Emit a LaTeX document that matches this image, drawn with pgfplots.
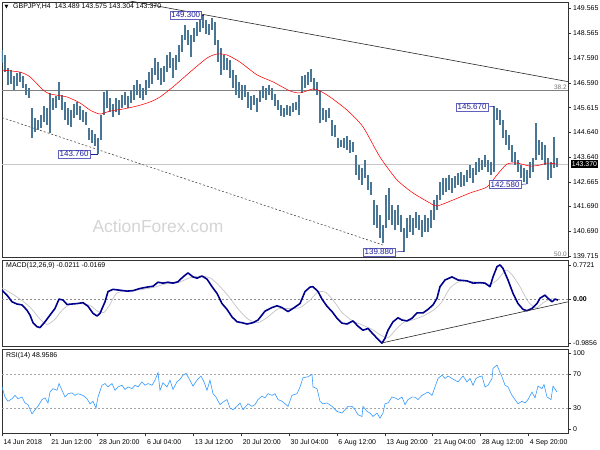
\documentclass[border=0pt]{standalone}
\usepackage{pgfplots}
\pgfplotsset{compat=1.18}
\usepackage{pgfplotstable}
\usepackage{fontspec}
\setmainfont{Liberation Sans}
\newfontfamily\symfont{DejaVu Sans}

\definecolor{barcol}{RGB}{72,118,148}
\definecolor{macdcol}{RGB}{0,0,140}
\definecolor{sigcol}{RGB}{196,196,196}
\definecolor{rsicol}{RGB}{51,153,255}
\definecolor{lblblue}{RGB}{30,30,160}
\definecolor{framecol}{RGB}{50,50,50}

% price bars: x (chart pixel), low, high
\pgfplotstableread{
x lo hi
2 147.39 147.91
5 147.03 147.71
8 146.52 147.20
11 146.56 147.12
14 146.32 146.88
17 146.48 147.00
20 146.64 147.04
23 146.40 146.88
26 146.12 146.56
29 146.00 146.40
32 144.41 145.60
35 144.65 145.20
38 144.73 145.12
41 144.81 145.32
44 145.04 145.68
47 144.93 145.60
50 144.61 146.20
53 145.52 146.00
56 145.60 146.08
59 145.92 146.64
62 145.52 146.12
65 145.12 145.84
68 144.93 145.60
71 144.85 145.52
74 145.20 145.76
77 145.32 145.84
80 145.12 145.68
83 145.04 145.52
86 144.93 145.44
89 144.33 144.81
92 144.21 144.73
95 144.09 144.57
98 143.76 144.41
101 144.33 145.32
104 145.32 146.24
107 145.60 146.32
110 145.44 146.00
113 145.24 145.76
116 145.44 146.00
119 145.32 145.92
122 145.60 146.12
125 145.72 146.24
128 145.60 146.08
131 145.80 146.32
134 145.92 146.52
137 146.12 146.72
140 146.00 146.56
143 145.92 146.40
146 146.12 146.72
149 146.40 147.04
152 146.56 147.20
155 146.92 147.59
158 146.72 147.43
161 146.52 147.20
164 146.64 147.28
167 147.04 147.71
170 147.20 147.83
173 146.80 147.59
176 147.12 147.71
179 147.43 148.11
182 147.83 148.51
185 148.31 148.90
188 148.11 148.71
191 147.63 148.51
194 148.23 148.79
197 148.47 149.02
200 148.63 149.10
203 148.79 149.30
206 148.55 149.10
209 148.51 148.94
212 148.71 149.18
215 148.11 149.02
218 147.43 148.31
221 146.92 147.99
224 147.12 147.71
227 147.12 147.59
230 146.80 147.51
233 146.40 147.12
236 146.12 146.92
239 146.00 146.64
242 145.92 146.52
245 146.04 146.52
248 145.60 146.24
251 145.52 146.08
254 145.72 146.12
257 145.44 146.00
260 145.84 146.32
263 146.00 146.48
266 145.92 146.40
269 146.12 146.52
272 145.92 146.40
275 145.68 146.16
278 145.52 145.92
281 145.28 145.72
284 145.24 145.60
287 145.32 145.72
290 145.28 145.68
293 145.44 145.80
296 145.52 145.84
299 145.32 146.12
302 146.20 146.88
305 146.40 146.92
308 146.52 147.04
311 146.64 147.16
314 146.32 146.80
317 146.12 146.64
320 145.00 146.32
323 145.12 145.60
326 145.04 145.52
329 145.20 145.60
332 144.49 145.12
335 144.45 144.93
338 144.01 144.41
341 144.05 144.33
344 144.01 144.41
347 143.93 144.49
350 143.81 144.33
353 143.85 144.25
356 142.94 143.73
359 142.74 143.33
362 142.54 143.21
365 142.82 143.53
368 142.34 142.94
371 142.14 142.66
374 140.95 141.94
377 140.83 141.74
380 140.43 141.35
383 140.23 140.95
386 140.83 142.14
389 141.15 142.42
392 140.95 141.74
395 140.75 141.55
398 140.95 141.74
401 140.67 141.35
404 139.88 140.83
407 140.43 141.23
410 140.67 141.35
413 140.55 141.23
416 140.83 141.47
419 140.75 141.35
422 140.47 141.15
425 140.67 141.35
428 140.67 141.23
431 140.83 141.55
434 141.15 141.94
437 141.55 142.14
440 141.94 142.66
443 142.14 142.82
446 142.26 142.82
449 142.34 142.94
452 142.22 142.82
455 142.42 142.90
458 142.54 143.02
461 142.46 143.06
464 142.50 142.94
467 142.66 143.14
470 142.82 143.33
473 142.62 143.21
476 142.94 143.45
479 143.06 143.61
482 143.14 143.53
485 143.26 143.73
488 143.06 143.53
491 142.94 143.45
494 143.06 145.67
497 145.12 145.60
500 144.93 145.52
503 144.41 145.12
506 144.13 144.73
509 143.93 144.53
512 143.45 144.13
515 143.33 143.85
518 143.06 143.53
521 142.82 143.33
524 142.66 143.21
527 142.58 143.14
530 142.82 143.45
533 143.06 143.61
536 143.53 145.00
539 143.73 144.33
542 143.53 144.25
545 143.33 144.13
548 142.74 143.61
551 142.82 143.45
554 143.21 144.45
557 143.25 143.61
}\bars

\pgfplotstableread{
x v
2 0.20
7 0.09
12 -0.06
17 -0.11
22 -0.13
27 -0.25
30 -0.36
33 -0.53
37 -0.62
40 -0.64
45 -0.51
50 -0.36
55 -0.21
59 0.00
63 -0.02
67 -0.12
72 -0.11
77 -0.10
83 -0.08
88 -0.16
93 -0.32
97 -0.38
100 -0.32
105 -0.06
108 0.17
113 0.22
120 0.20
127 0.18
133 0.19
140 0.24
147 0.27
153 0.29
158 0.38
163 0.36
168 0.38
173 0.36
178 0.39
183 0.50
188 0.59
193 0.50
197 0.47
202 0.52
207 0.45
212 0.28
217 0.13
222 -0.10
227 -0.23
232 -0.40
237 -0.51
242 -0.53
247 -0.56
253 -0.53
258 -0.47
265 -0.27
272 -0.19
277 -0.15
282 -0.19
288 -0.28
293 -0.21
300 -0.10
305 0.17
310 0.27
313 0.28
318 0.17
322 0.00
327 -0.16
332 -0.28
337 -0.43
342 -0.54
347 -0.56
353 -0.49
358 -0.61
363 -0.70
368 -0.66
372 -0.76
377 -0.88
382 -0.99
385 -0.88
388 -0.70
393 -0.51
398 -0.42
402 -0.47
407 -0.49
412 -0.43
417 -0.31
423 -0.31
428 -0.23
433 -0.13
437 0.02
440 0.28
445 0.43
452 0.50
458 0.43
467 0.41
473 0.36
480 0.37
485 0.36
490 0.28
493 0.50
497 0.73
500 0.77
503 0.69
508 0.43
513 0.13
518 -0.10
523 -0.23
527 -0.26
532 -0.21
537 -0.10
540 0.02
545 0.09
548 0.02
552 -0.06
555 0.00
558 -0.02
}\macd

\pgfplotstableread{
x v
2 0.25
10 0.15
20 0.00
30 -0.18
40 -0.45
47 -0.57
55 -0.45
62 -0.25
70 -0.12
80 -0.10
90 -0.14
98 -0.28
104 -0.30
110 -0.12
116 0.12
125 0.19
140 0.21
155 0.27
165 0.34
178 0.37
190 0.48
200 0.52
210 0.48
218 0.33
228 0.08
238 -0.22
248 -0.45
258 -0.53
268 -0.40
278 -0.22
290 -0.21
300 -0.19
310 -0.02
318 0.16
326 0.15
334 -0.05
342 -0.30
352 -0.48
362 -0.58
372 -0.68
380 -0.80
388 -0.87
396 -0.68
404 -0.52
414 -0.46
424 -0.37
434 -0.24
442 -0.06
450 0.25
460 0.40
475 0.39
490 0.33
498 0.45
506 0.65
512 0.55
520 0.28
528 -0.05
536 -0.20
544 -0.07
552 0.01
558 -0.02
}\signal

\pgfplotstableread{
x v
2 55
5 43
8 38
12 41
15 45
18 41
22 43
25 36
28 34
32 23
35 28
38 32
42 40
45 42
48 36
50 49
53 53
57 51
59 59
62 51
65 43
68 47
72 48
75 45
78 47
83 45
87 41
90 35
93 38
96 30
98 43
102 57
105 59
108 55
112 59
115 51
118 55
122 57
125 52
128 55
132 53
135 57
138 55
142 61
145 57
148 59
152 57
155 63
158 72
160 51
163 60
167 55
170 63
173 52
177 61
180 64
183 69
186 71
189 65
193 56
197 63
201 68
204 61
207 51
210 63
213 47
216 43
220 34
223 37
227 40
230 30
233 28
237 32
240 36
243 28
248 35
252 32
255 34
258 40
262 44
265 42
268 47
272 45
275 47
278 40
282 38
285 35
288 32
292 45
297 47
300 55
303 66
308 67
312 70
313 55
317 53
320 38
323 35
327 36
332 32
337 26
342 24
345 28
348 32
352 32
355 28
358 22
362 20
363 32
367 26
370 24
373 20
377 24
380 18
383 24
385 35
388 36
392 43
395 42
398 40
402 43
405 34
408 40
412 43
415 43
418 40
422 45
425 47
428 49
432 45
435 55
438 65
442 69
445 65
448 68
452 65
455 63
458 61
463 68
467 61
470 65
473 57
476 65
479 67
482 68
485 55
488 57
492 65
493 77
497 81
499 75
502 67
505 57
508 55
512 45
515 40
518 35
522 38
525 36
528 40
532 49
535 42
538 56
542 53
544 58
547 43
551 40
553 56
557 49
}\rsi

\pgfplotsset{
  mtpanel/.style={
    scale only axis, width=566bp, xmin=2, xmax=568,
    anchor=south west,
    axis line style={framecol, line width=0.6pt},
    ytick pos=right, yticklabel pos=right, tick align=outside,
    major tick length=3bp, tick style={framecol, line width=0.5pt},
    tick label style={font=\fontsize{7}{8}\selectfont},
    yticklabel style={anchor=west, xshift=-1.3bp},
  },
}
\tikzset{
  lvl/.style={draw=lblblue!70!white, fill=white, text=lblblue, inner sep=1.3bp,
    line width=0.5pt, font=\fontsize{8}{9}\selectfont, anchor=east},
  txt/.style={anchor=west, inner sep=0, font=\fontsize{7}{8}\selectfont},
}

\begin{document}
\begin{tikzpicture}
\path[use as bounding box] (0bp,0bp) rectangle (600bp,450bp);

\node[text=black!17, font=\fontsize{17.5}{20}\selectfont] at (158bp,224bp) {ActionForex.com};

% main price panel
\begin{axis}[mtpanel, at={(2bp,192.7bp)}, height=255.3bp,
  ymin=139.66, ymax=149.82, xtick=\empty,
  ytick={139.715,140.690,141.690,142.665,143.640,144.640,145.615,146.590,147.590,148.565,149.565},
  yticklabels={139.715,140.690,141.690,142.665,143.640,144.640,145.615,146.590,147.590,148.565,149.565}]
\addplot[black!50, line width=0.8pt, forget plot] coordinates {(2,146.29) (568,146.29)};
\addplot[black!22, line width=0.6pt, forget plot] coordinates {(2,143.37) (568,143.37)};
\addplot[black!85, line width=0.6pt, forget plot] coordinates {(100,150.08) (568,146.65)};
\addplot[black!70, line width=0.6pt, dash pattern=on 2bp off 2bp, forget plot]
  coordinates {(2,145.22) (383,140.15)};
\addplot[draw=none, mark=none, forget plot,
  error bars/.cd, y dir=plus, y explicit, error mark=none,
  error bar style={draw=barcol, line width=1.5bp}]
  table[x=x, y=lo, y error expr=\thisrow{hi}-\thisrow{lo}] {\bars};
\addplot[red, line width=0.55pt, smooth, tension=0.4, forget plot] coordinates {
(2,147.11) (20,147.03) (30,146.84) (43,146.32) (50,146.16) (67,146.04)
(80,145.80) (90,145.52) (100,145.36) (110,145.48) (123,145.56) (137,145.68)
(150,145.84) (160,146.04) (173,146.44) (190,147.03) (207,147.59) (217,147.75)
(227,147.71) (240,147.43) (257,146.92) (273,146.64) (290,146.28) (300,146.20)
(313,146.36) (320,146.28) (330,146.04) (347,145.52) (363,144.85) (380,143.65)
(397,142.74) (413,142.22) (430,141.82) (437,141.70) (453,141.94) (470,142.22)
(487,142.46) (497,142.94) (507,143.37) (517,143.41) (530,143.29) (540,143.33)
(547,143.41) (557,143.37)};
\draw[lblblue, line width=0.5pt] (axis cs:201.7,149.30) -- (axis cs:204,149.30);
\node[lvl] at (axis cs:201.7,149.30) {149.300};
\draw[lblblue, line width=0.5pt] (axis cs:90,143.77) -- (axis cs:98,143.77);
\node[lvl] at (axis cs:90,143.77) {143.760};
\draw[lblblue, line width=0.5pt] (axis cs:395,139.87) -- (axis cs:404,139.90);
\node[lvl] at (axis cs:395,139.87) {139.880};
\draw[lblblue, line width=0.5pt] (axis cs:488,145.64) -- (axis cs:494,145.67);
\node[lvl] at (axis cs:488,145.64) {145.670};
\draw[lblblue, line width=0.5pt] (axis cs:521,142.56) -- (axis cs:527,142.58);
\node[lvl] at (axis cs:521,142.56) {142.580};
\node[anchor=south east, inner sep=0.6bp, text=black!55, font=\fontsize{6.5}{7}\selectfont]
  at (axis cs:567.5,146.30) {38.2};
\node[anchor=south east, inner sep=0.6bp, text=black!55, font=\fontsize{6.5}{7}\selectfont]
  at (axis cs:567.5,139.66) {50.0};
\end{axis}

% MACD panel
\begin{axis}[mtpanel, at={(2bp,103.3bp)}, height=86.7bp,
  ymin=-1.07, ymax=0.88, xtick=\empty,
  ytick={-0.9856,0,0.7721}, yticklabels={-0.9856,\textbf{0.00},0.7721}]
\addplot[black!45, line width=0.5pt, dash pattern=on 2bp off 2bp] coordinates {(2,0) (568,0)};
\addplot[sigcol, line width=0.7pt, smooth, tension=0.4] table[x=x, y=v] {\signal};
\addplot[macdcol, line width=1.6pt, line join=round] table[x=x, y=v] {\macd};
\addplot[black!85, line width=0.6pt] coordinates {(381,-0.99) (568,-0.06)};
\end{axis}

% RSI panel
\begin{axis}[mtpanel, at={(2bp,16.7bp)}, height=84.3bp,
  ymin=0, ymax=100,
  ytick={5,30,70,95}, yticklabels={0,30,70,100},
  xtick pos=bottom,
  xtick={2,49.85,97.7,145.55,193.4,241.25,289.1,336.95,384.8,432.65,480.5,528.35},
  xticklabels={14 Jun 2018,21 Jun 12:00,28 Jun 20:00,6 Jul 04:00,13 Jul 12:00,20 Jul 20:00,30 Jul 04:00,6 Aug 12:00,13 Aug 20:00,21 Aug 04:00,28 Aug 12:00,4 Sep 20:00},
  xticklabel style={anchor=north west, xshift=-2bp}]
\addplot[black!35, line width=0.5pt, dash pattern=on 2bp off 2bp] coordinates {(2,70) (568,70)};
\addplot[black!35, line width=0.5pt, dash pattern=on 2bp off 2bp] coordinates {(2,30) (568,30)};
\addplot[rsicol, line width=0.6pt] table[x=x, y=v] {\rsi};
\end{axis}

% texts
\node[anchor=west, inner sep=0, font=\fontsize{5}{6}\symfont] at (4.5bp,443bp) {▼};
\node[txt] at (13bp,443bp) {GBPJPY,H4\ \ 143.489 143.575 143.304 143.370};
\node[txt] at (6bp,184bp) {MACD(12,26,9) -0.0211 -0.0169};
\node[txt] at (6bp,94bp) {RSI(14) 48.9586};
\node[fill=black, text=white, anchor=west, inner sep=1.2bp, font=\fontsize{7}{8}\selectfont]
  at (570.5bp,286bp) {143.370};
\end{tikzpicture}
\end{document}
